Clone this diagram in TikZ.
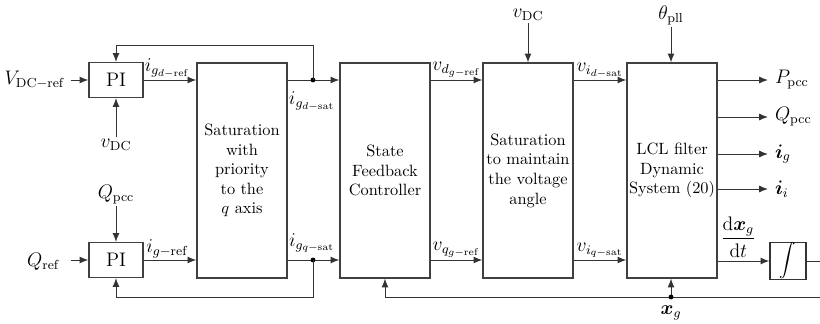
\documentclass[tikz,border=0pt]{standalone}
\usepackage{amsmath}
\usepackage{tikz}
\usetikzlibrary{arrows.meta,positioning}

\begin{document}
\begin{tikzpicture}[x=0.0215cm,y=-0.0215cm,
  blk/.style={draw=black!75,line width=0.8pt,inner sep=0pt,align=center,
    minimum width=1.935cm,minimum height=4.62cm},
  piblk/.style={draw=black!75,line width=0.8pt,inner sep=0pt,
    minimum width=1.16cm,minimum height=0.75cm,font=\large},
  sig/.style={draw=black!80,line width=0.6pt,-{Latex[length=1.9mm,width=1.5mm]}},
  wire/.style={draw=black!80,line width=0.6pt},
  lbl/.style={inner sep=1pt,font=\large},
  sublbl/.style={inner sep=1pt,font=\large},
  jdot/.style={circle,fill=black,inner sep=0pt,minimum size=3pt}]
  \useasboundingbox (0,0) rectangle (820,324);
  % blocks
  \node[piblk] (pid) at (116,80) {PI};
  \node[piblk] (piq) at (116,260) {PI};
  \node[blk] (sat) at (242,170.5) {Saturation\\with\\priority\\to the\\$q$ axis};
  \node[blk] (sfc) at (385,170.5) {State\\Feedback\\Controller};
  \node[blk] (sva) at (528,170.5) {Saturation\\to maintain\\the voltage\\angle};
  \node[blk] (lcl) at (672,170.5) {LCL filter\\Dynamic\\System (20)};
  \node[draw=black!80,line width=0.8pt,inner sep=0pt,minimum size=0.774cm] (intg) at (788,261) {$\displaystyle\int$};
  % inputs
  \node[lbl,anchor=east] (vdcref) at (67,80) {$V_{\mathrm{DC}-\mathrm{ref}}$};
  \node[lbl,anchor=east] (qref) at (62,262) {$Q_{\mathrm{ref}}$};
  \node[lbl] (vdca) at (116,145) {$v_{\mathrm{DC}}$};
  \node[lbl] (qpcca) at (116,195) {$Q_{\mathrm{pcc}}$};
  \node[lbl] (vdcb) at (528,15) {$v_{\mathrm{DC}}$};
  \node[lbl] (thpll) at (671,15) {$\theta_{\mathrm{pll}}$};
  \draw[sig] (vdcref.east) ++(4,0) -- (pid.west);
  \draw[sig] (qref.east) ++(9,-2) -- (piq.west);
  \draw[sig] (vdca.north) -- (pid.south);
  \draw[sig] (qpcca.south) -- (piq.north);
  \draw[sig] (vdcb.south) -- (sva.north);
  \draw[sig] (thpll.south) -- (lcl.north -| thpll.south);
  % forward path
  \draw[sig] (pid.east) -- (sat.west |- pid.east)
    node[sublbl,pos=0.45,above] {$i_{g_{d-\mathrm{ref}}}$};
  \draw[sig] (piq.east) -- (sat.west |- piq.east)
    node[sublbl,pos=0.45,above] {$i_{g-\mathrm{ref}}$};
  \coordinate (jd) at (313,80);
  \coordinate (jq) at (313,260);
  \draw[sig] (sat.east |- jd) -- (sfc.west |- jd);
  \draw[sig] (sat.east |- jq) -- (sfc.west |- jq);
  \node[sublbl] at (312,101) {$i_{g_{d-\mathrm{sat}}}$};
  \node[sublbl] at (312,243) {$i_{g_{q-\mathrm{sat}}}$};
  \node[jdot] at (jd) {};
  \node[jdot] at (jq) {};
  \draw[sig] (sfc.east |- jd) -- (sva.west |- jd)
    node[sublbl,midway,above] {$v_{d_{g-\mathrm{ref}}}$};
  \draw[sig] (sfc.east |- jq) -- (sva.west |- jq)
    node[sublbl,midway,above] {$v_{q_{g-\mathrm{ref}}}$};
  \draw[sig] (sva.east |- jd) -- (lcl.west |- jd)
    node[sublbl,midway,above] {$v_{i_{d-\mathrm{sat}}}$};
  \draw[sig] (sva.east |- jq) -- (lcl.west |- jq)
    node[sublbl,midway,above] {$v_{i_{q-\mathrm{sat}}}$};
  % saturation feedback
  \coordinate (jdt) at (313,45);
  \coordinate (jqb) at (313,297);
  \draw[sig] (jd) -- (jdt) -| (pid.north);
  \draw[sig] (jq) -- (jqb) -| (piq.south);
  % outputs
  \foreach \y/\t in {80/P_{\mathrm{pcc}},117/Q_{\mathrm{pcc}},154/\boldsymbol{i}_g,189/\boldsymbol{i}_i} {
    \draw[sig] (lcl.east |- 0,\y) -- (768,\y) node[lbl,right=3pt] {$\t$};
  }
  \draw[sig] (lcl.east |- intg) -- (intg.west)
    node[sublbl,pos=0.4,above=1pt] {$\dfrac{\mathrm{d}\boldsymbol{x}_g}{\mathrm{d}t}$};
  \coordinate (intgo) at (820,261);
  \draw[wire] (intg.east) -- (intgo);
  % state feedback
  \coordinate (fbs) at (385,297);
  \coordinate (xg) at (671,297);
  \coordinate (fbe) at (820,297);
  \draw[wire] (fbs) -- (fbe);
  \draw[sig] (fbs) -- (sfc.south);
  \draw[sig] (xg) -- (lcl.south -| xg);
  \node[jdot] at (xg) {};
  \node[lbl] (xglbl) at (671,313) {$\boldsymbol{x}_g$};
\end{tikzpicture}
\end{document}
